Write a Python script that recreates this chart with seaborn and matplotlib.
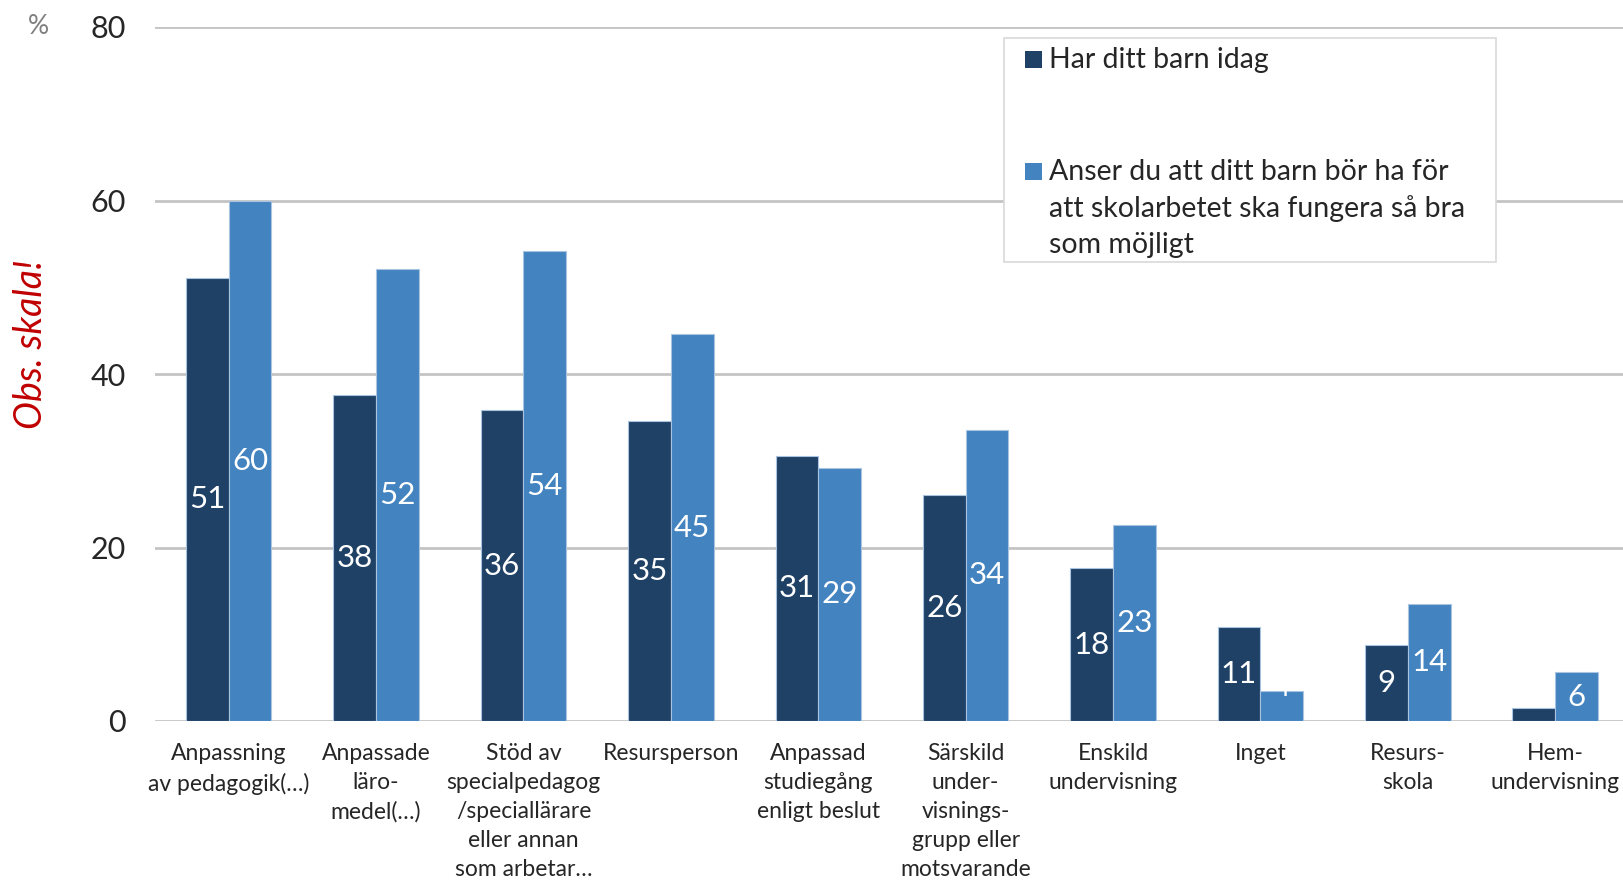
import matplotlib
matplotlib.use("Agg")
import matplotlib.pyplot as plt
from matplotlib.patches import Rectangle
import seaborn as sns
import pandas as pd

categories = [
    "Anpassning\nav pedagogik(…)",
    "Anpassade\nläro-\nmedel(…)",
    "Stöd av\nspecialpedagog\n/speciallärare\neller annan\nsom arbetar…",
    "Resursperson",
    "Anpassad\nstudiegång\nenligt beslut",
    "Särskild\nunder-\nvisnings-\ngrupp eller\nmotsvarande",
    "Enskild\nundervisning",
    "Inget",
    "Resurs-\nskola",
    "Hem-\nundervisning",
]
series_names = [
    "Har ditt barn idag",
    "Anser du att ditt barn bör ha för\natt skolarbetet ska fungera så bra\nsom möjligt",
]
har_idag = [51.1, 37.6, 35.8, 34.6, 30.6, 26.0, 17.6, 10.8, 8.8, 1.5]
bor_ha = [60.0, 52.1, 54.2, 44.6, 29.2, 33.6, 22.6, 3.5, 13.5, 5.6]
y_ticks = [0, 20, 40, 60, 80]

DARK = "#1F4166"
LIGHT = "#4383C0"
FONT = "Lato"

sns.set_theme(style="white")
plt.rcParams["font.family"] = [FONT, "DejaVu Sans"]

df = pd.DataFrame({
    "cat": categories * 2,
    "series": [series_names[0]] * len(categories) + [series_names[1]] * len(categories),
    "val": har_idag + bor_ha,
})

W, H = 1623, 882
fig = plt.figure(figsize=(W / 100, H / 100), dpi=100)
ax = fig.add_axes([155 / W, 1 - 721 / H, 1 - 155 / W, (721 - 27) / H])

sns.barplot(data=df, x="cat", y="val", hue="series", order=categories,
            hue_order=series_names, palette=[DARK, LIGHT], saturation=1,
            width=0.58, gap=0, edgecolor="#A9C4E0", linewidth=0.8,
            legend=False, ax=ax, zorder=3)

ax.set_ylim(0, 80)
ax.set_xlim(-0.5, 9.46)
ax.set_yticks(y_ticks)
ax.set_yticklabels([str(t) for t in y_ticks], fontsize=22, color="#262626")
ax.tick_params(axis="y", length=0, pad=21)
ax.tick_params(axis="x", length=0, pad=16)
ax.set_xticks(range(len(categories)))
ax.set_xticklabels(categories, fontsize=16.5, color="#262626", linespacing=1.47,
                   va="top", ha="center")
ax.set_xlabel("")
ax.set_ylabel("")
for s in ax.spines.values():
    s.set_visible(False)
ax.grid(axis="y", color="#C4C4C4", linewidth=2, zorder=0)
ax.grid(axis="x", visible=False)

# value labels
for cont in ax.containers:
    for bar in cont:
        v = bar.get_height()
        if v < 2:
            continue
        x = bar.get_x() + bar.get_width() / 2
        y = v / 2 if v >= 5 else v + 0.4
        ax.text(x, y, f"{round(v):d}", ha="center", va="center", color="white",
                fontsize=22.5, zorder=4)

# extra annotations
fig.text(38 / W, 1 - 26 / H, "%", ha="center", va="center", fontsize=19, color="#808080")
fig.text(31 / W, 1 - 344 / H, "Obs. skala!", ha="center", va="center", rotation=90,
         fontsize=27, color="#C00000", style="italic")

# legend box
fig.patches.append(Rectangle((1004 / W, 1 - 262 / H), (1496 - 1004) / W, (262 - 38) / H,
                             transform=fig.transFigure, facecolor="white",
                             edgecolor="#D9D9D9", linewidth=1.2, zorder=5))
fig.patches.append(Rectangle((1025 / W, 1 - 68 / H), 17 / W, 17 / H,
                             transform=fig.transFigure, facecolor=DARK, edgecolor="none", zorder=6))
fig.patches.append(Rectangle((1025 / W, 1 - 180 / H), 17 / W, 17 / H,
                             transform=fig.transFigure, facecolor=LIGHT, edgecolor="none", zorder=6))
fig.text(1049 / W, 1 - 68 / H, series_names[0], ha="left", va="baseline",
         fontsize=20.5, color="#262626", zorder=7)
fig.text(1049 / W, 1 - 159 / H, series_names[1], ha="left", va="top",
         fontsize=20.5, color="#262626", linespacing=1.47, zorder=7)

fig.savefig("out.png", dpi=100)
